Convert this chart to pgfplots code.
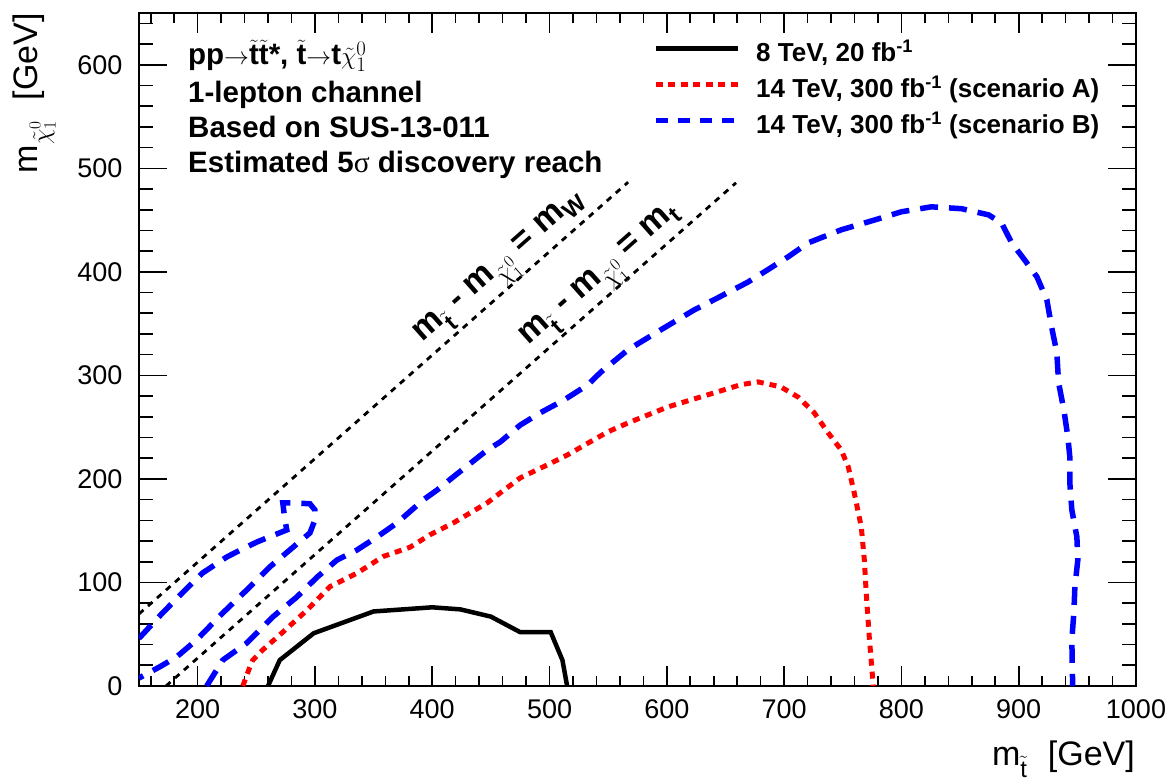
\documentclass[border=0pt]{standalone}
\usepackage{fontspec}
\setmainfont{Liberation Sans}
\newfontfamily\symfont{Liberation Serif}
\usepackage{pgfplots}
\pgfplotsset{compat=1.18}
\newcommand{\tl}[1]{\ensuremath{\tilde{\mbox{#1}}}}
\begin{document}
\begin{tikzpicture}
\begin{axis}[
  scale only axis, width=997pt, height=673pt,
  xmin=150, xmax=1000, ymin=0, ymax=650,
  xtick={200,300,...,1000}, ytick={0,100,...,600},
  minor xtick={160,180,...,1000}, minor ytick={20,40,...,640},
  axis line style={line width=2.6pt},
  tick style={line width=1.6pt, black},
  xtick style={/pgfplots/major tick length=20pt,/pgfplots/minor tick length=10pt},
  ytick style={/pgfplots/major tick length=28pt,/pgfplots/minor tick length=14pt},
  ticklabel style={font=\fontsize{27}{30}\selectfont},
  /pgf/number format/assume math mode=true,
  /pgf/number format/1000 sep={},
  xticklabel style={yshift=-10pt},
  yticklabel style={xshift=-13pt},
  legend cell align=left,
  legend image code/.code={\draw[#1] (0pt,3pt) -- (82pt,3pt);},
  legend style={draw=none, fill=none, at={(0.5155,0.9634)}, anchor=north west,
    font=\fontsize{26}{30}\selectfont\bfseries, inner sep=0pt, row sep=9pt,
    nodes={inner sep=2pt}, column sep=14pt},
]
% diagonal kinematic lines
\addplot[black, line width=2.8pt, dash pattern=on 6pt off 6pt, forget plot] coordinates {(150,69.6) (567,486.6)};
\addplot[black, line width=2.8pt, dash pattern=on 6pt off 6pt, forget plot] coordinates {(173,0) (659,486)};
% 8 TeV
\addplot[black, line width=4.5pt, forget plot] coordinates {
(260,0) (270,25) (299,51) (350,72) (400,76) (424,74) (450,67) (475,52) (501,52) (511,25) (515,0)};
% scenario A
\addplot[red, line width=5pt, dash pattern=on 7pt off 6pt, forget plot] coordinates {
(238.5,0) (244.4,18) (247,25) (255.6,35) (272.6,52) (293,73) (312.8,96) (335.9,109) (358,125) (381,134) (398,146) (418,157.5) (447,177) (458,186.5) (475,201) (498,213.5) (515,223) (537.6,237.7) (549.6,245.4) (566.7,254) (601,269.6) (640,283) (663,291) (677.7,293.7) (697,289) (712,279) (725.6,264) (737.6,244.4) (748.7,228) (754.7,211.6) (759.8,186.5) (765.8,153.6) (768.4,121.7) (770,90) (772.6,47.3) (776,0)};
% scenario B main
\addplot[blue, line width=5.5pt, dash pattern=on 18pt off 11pt, forget plot] coordinates {
(207.7,0) (221.4,25) (241.9,41.5) (264,66.7) (284.6,86) (301.7,105) (318.8,121.7) (335.9,131.4) (353,144) (370,157.5) (392.3,179.7) (404.3,189.4) (418,202) (447,228) (458,235.7) (475,252) (492,263.8) (512,276) (532.5,290.8) (543.6,303) (566.7,324.6) (594.9,344) (623,363) (643.6,375) (669,390) (686,402) (703.4,414.5) (720.5,428) (748.7,440.6) (776.9,450) (800,458) (825.6,462.8) (851.3,461) (874.4,455) (885.5,447) (894,428) (905,411.6) (915.6,395) (924,373) (928,347) (932.5,322) (934,293) (938.5,266.7) (941.9,240.6) (943.6,221) (943.6,196) (945.3,170) (949.6,144) (950.4,121.7) (947.9,95.7) (947,70.5) (945.3,44.4) (946,0)};
% scenario B left island
\addplot[blue, line width=5.5pt, dash pattern=on 18pt off 11pt, forget plot] coordinates {
(150,46) (170,70.5) (187,90) (204,109) (224.8,124.6) (233.3,129.5) (250.4,139) (259,143) (276,150.7) (274.4,160.4) (272.6,176.8) (283,176.8) (295.7,176) (300,170) (300,160.4) (295.7,147.8) (278.6,131.4) (261.5,115) (241.9,92.8) (221.4,70.5) (199,44.4) (182,28) (167.5,18.4) (150,7.7)};
\addlegendimage{black, line width=4.5pt}
\addlegendentry{8 TeV, 20 fb\textsuperscript{-1}}
\addlegendimage{red, line width=5pt, dash pattern=on 7pt off 5.5pt}
\addlegendentry{14 TeV, 300 fb\textsuperscript{-1} (scenario A)}
\addlegendimage{blue, line width=5pt, dash pattern=on 12pt off 10pt}
\addlegendentry{14 TeV, 300 fb\textsuperscript{-1} (scenario B)}
\node[rotate=41.5, font=\fontsize{34}{40}\selectfont\bfseries] at (axis cs:460,401) {m\textsubscript{\tl{t}} - m\textsubscript{$\tilde{\chi}^{0}_{1}$} = m\textsubscript{W}};
\node[rotate=41.5, font=\fontsize{34}{40}\selectfont\bfseries] at (axis cs:546,393) {m\textsubscript{\tl{t}} - m\textsubscript{$\tilde{\chi}^{0}_{1}$} = m\textsubscript{t}};
\end{axis}
\begin{scope}[font=\fontsize{29.5}{34}\selectfont\bfseries]
\node[anchor=base west, inner sep=0pt] at (49pt,621pt) {pp$\rightarrow$\tl{t}\tl{t}*, \tl{t}$\rightarrow$t$\tilde{\chi}^{0}_{1}$};
\node[anchor=base west, inner sep=0pt] at (49pt,583pt) {1-lepton channel};
\node[anchor=base west, inner sep=0pt] at (49pt,548pt) {Based on SUS-13-011};
\node[anchor=base west, inner sep=0pt] at (49pt,513pt) {Estimated 5{\symfont\mdseries σ} discovery reach};
\end{scope}
\node[anchor=base east, inner sep=0pt, font=\fontsize{34}{40}\selectfont] at (996pt,-79pt) {m\textsubscript{\tl{t}}\hspace{0.6em}[GeV]};
\node[anchor=base east, inner sep=0pt, rotate=90, font=\fontsize{34}{40}\selectfont] at (-101pt,673pt) {m\textsubscript{$\tilde{\chi}^{0}_{1}$}\hspace{0.6em}[GeV]};
\pgfresetboundingbox
\useasboundingbox (-139pt,-93pt) rectangle (1033pt,686pt);
\end{tikzpicture}
\end{document}
